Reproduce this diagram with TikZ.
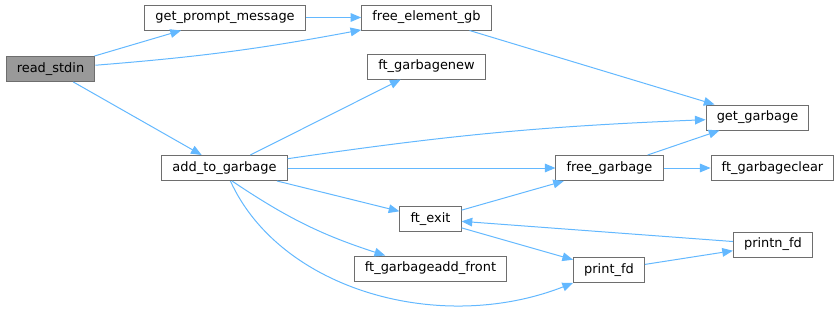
\documentclass[tikz,border=0pt]{standalone}
\usepackage{fontspec}
\setmainfont{DejaVu Sans}
\usetikzlibrary{arrows.meta}
\definecolor{calledge}{RGB}{99,184,255}
\definecolor{fnborder}{RGB}{110,110,110}
\definecolor{fnrootfill}{RGB}{153,153,153}
\tikzset{
  fn/.style    ={rectangle, draw=fnborder, fill=white, line width=0.75pt,
                 minimum height=18.75pt, inner xsep=8pt, inner ysep=0pt,
                 font=\fontsize{9.7}{11}\selectfont},
  fnroot/.style={fn, fill=fnrootfill},
  call/.style  ={-{Triangle[length=8pt,width=6.5pt]}, calledge, line width=0.75pt},
}

\begin{document}
\begin{tikzpicture}[x=0.75pt,y=-0.75pt]
  \useasboundingbox (0,0) rectangle (840,314);
  % functions
  \node[fnroot] (readstdin) at (50.5,69)   {read\_stdin};
  \node[fn]     (prompt)    at (225,17.5)  {get\_prompt\_message};
  \node[fn]     (freeelem)  at (426.5,17.5){free\_element\_gb};
  \node[fn]     (gbnew)     at (426.5,66.5){ft\_garbagenew};
  \node[fn]     (getgb)     at (757.5,117.5){get\_garbage};
  \node[fn]     (addgb)     at (224.5,168) {add\_to\_garbage};
  \node[fn]     (freegb)    at (609.5,168) {free\_garbage};
  \node[fn]     (gbclear)   at (772.5,168) {ft\_garbageclear};
  \node[fn]     (ftexit)    at (430.5,219) {ft\_exit};
  \node[fn]     (gbfront)   at (430.5,268.5){ft\_garbageadd\_front};
  \node[fn]     (printnfd)  at (773,244.5) {printn\_fd};
  \node[fn]     (printfd)   at (609,270)   {print\_fd};
  % calls
  \draw[call] (readstdin) -- (prompt);
  \draw[call] (readstdin) to[bend right=3] (freeelem);
  \draw[call] (readstdin) -- (addgb);
  \draw[call] (prompt) -- (freeelem);
  \draw[call] (freeelem) -- (getgb);
  \draw[call] (addgb) -- (gbnew);
  \draw[call] (addgb) to[bend left=3] (getgb);
  \draw[call] (addgb) -- (freegb);
  \draw[call] (addgb) -- (ftexit);
  \draw[call] (addgb.-60) to[bend right=8] (gbfront.164);
  \draw[call] (addgb) .. controls (280,290) and (440,335) .. (printfd.south west);
  \draw[call] (freegb) -- (getgb);
  \draw[call] (freegb) -- (gbclear);
  \draw[call] (ftexit) -- (freegb);
  \draw[call] (ftexit) -- (printfd);
  \draw[call] (printfd) -- (printnfd);
  \draw[call] (printnfd) -- (ftexit);
\end{tikzpicture}
\end{document}
